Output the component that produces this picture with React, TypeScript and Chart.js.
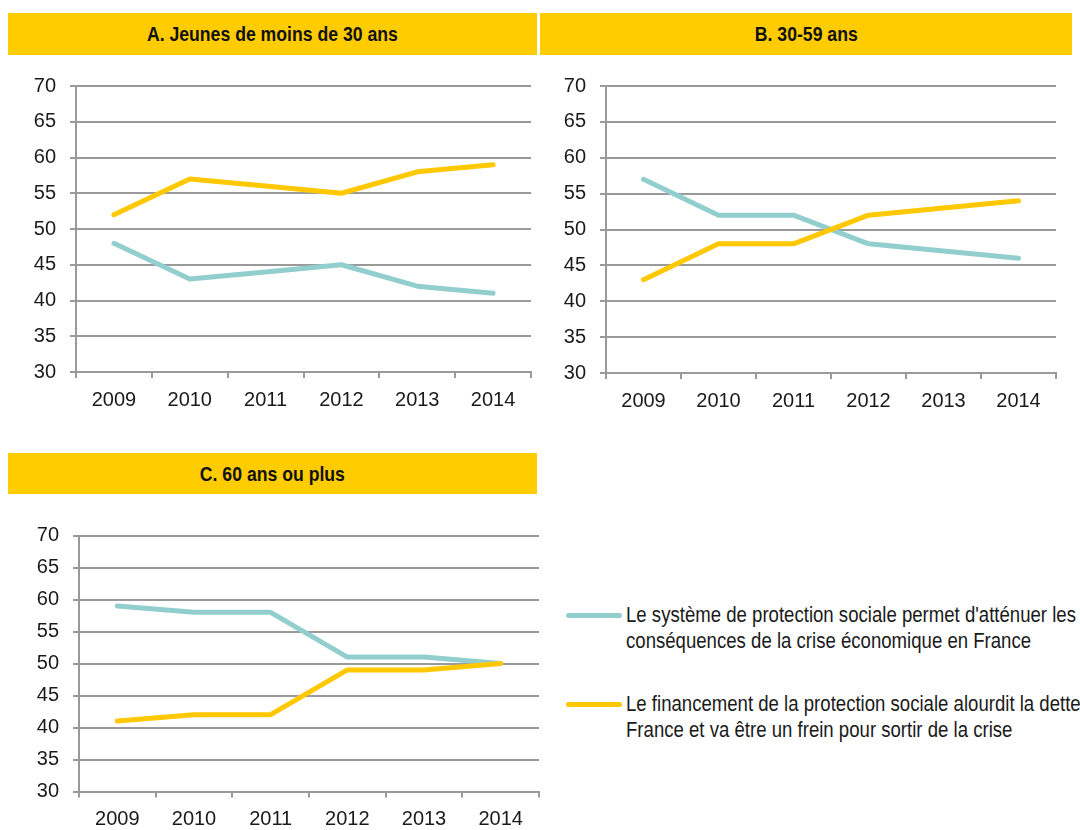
import React, { useEffect, useRef } from "react";
import { Chart, registerables } from "chart.js";

Chart.register(...registerables);

const years = ["2009", "2010", "2011", "2012", "2013", "2014"];

const youngAttenue = [48, 43, 44, 45, 42, 41];
const youngDette = [52, 57, 56, 55, 58, 59];

const midAttenue = [57, 52, 52, 48, 47, 46];
const midDette = [43, 48, 48, 52, 53, 54];

const seniorAttenue = [59, 58, 58, 51, 51, 50];
const seniorDette = [41, 42, 42, 49, 49, 50];

const titles = ["A. Jeunes de moins de 30 ans", "B. 30-59 ans", "C. 60 ans ou plus"];

const legendAttenue = ["Le système de protection sociale permet d'atténuer les", "conséquences de la crise économique en France"];
const legendDette = ["Le financement de la protection sociale alourdit la dette de la", "France et va être un frein pour sortir de la crise"];

const CYAN = "#92CECE";
const YELLOW = "#FFC800";
const HEADER = "#FFCC00";
const GRID = "#9a9a9a";
const FONT = "'Liberation Sans', Arial, sans-serif";

type Box = { left: number; top: number; w: number; h: number; yWidth: number; padTop: number; padRight: number; xHeight: number };

function LineChart({ box, attenue, dette }: { box: Box; attenue: number[]; dette: number[] }) {
  const ref = useRef<HTMLCanvasElement | null>(null);
  useEffect(() => {
    if (!ref.current) return;
    const chart = new Chart(ref.current, {
      type: "line",
      data: {
        labels: years,
        datasets: [
          {
            label: legendDette.join(" "),
            data: dette,
            borderColor: YELLOW,
            backgroundColor: YELLOW,
            borderWidth: 5,
            pointRadius: 0,
            tension: 0,
            borderCapStyle: "round",
            borderJoinStyle: "round",
          },
          {
            label: legendAttenue.join(" "),
            data: attenue,
            borderColor: CYAN,
            backgroundColor: CYAN,
            borderWidth: 5,
            pointRadius: 0,
            tension: 0,
            borderCapStyle: "round",
            borderJoinStyle: "round",
          },
        ],
      },
      options: {
        responsive: false,
        animation: false,
        devicePixelRatio: 1,
        layout: { padding: { top: box.padTop, right: box.padRight, left: 0, bottom: 0 } },
        plugins: { legend: { display: false }, tooltip: { enabled: false }, title: { display: false } },
        scales: {
          x: {
            type: "category",
            offset: true,
            grid: {
              offset: true,
              drawOnChartArea: false,
              drawTicks: true,
              tickLength: 6,
              color: GRID,
              lineWidth: 2,
            },
            border: { display: true, color: GRID, width: 2 },
            ticks: {
              color: "#1a1a1a",
              font: { family: FONT, size: 20 },
              padding: 10,
              maxRotation: 0,
              autoSkip: false,
            },
            afterFit: (scale: any) => {
              scale.height = box.xHeight;
            },
          },
          y: {
            min: 30,
            max: 70,
            ticks: {
              stepSize: 5,
              color: "#1a1a1a",
              font: { family: FONT, size: 20 },
              padding: 14,
            },
            grid: {
              color: GRID,
              lineWidth: 2,
              drawTicks: true,
              tickLength: 6,
            },
            border: { display: true, color: GRID, width: 2 },
            afterFit: (scale: any) => {
              scale.width = box.yWidth;
            },
          },
        },
      },
    });
    return () => chart.destroy();
  }, []);
  return (
    <canvas
      ref={ref}
      width={box.w}
      height={box.h}
      style={{ position: "absolute", left: box.left, top: box.top, width: box.w, height: box.h }}
    />
  );
}

function Header({ left, top, width, height, text }: { left: number; top: number; width: number; height: number; text: string }) {
  return (
    <div
      style={{
        position: "absolute",
        left,
        top,
        width,
        height,
        background: HEADER,
        display: "flex",
        alignItems: "center",
        justifyContent: "center",
      }}
    >
      <span
        style={{
          display: "inline-block",
          fontFamily: FONT,
          fontWeight: "bold",
          fontSize: 21,
          color: "#111",
          transform: "scaleX(0.84)",
          whiteSpace: "nowrap",
        }}
      >
        {text}
      </span>
    </div>
  );
}

function LegendItem({ top, color, lines }: { top: number; color: string; lines: string[] }) {
  return (
    <>
      <div style={{ position: "absolute", left: 566, top: top - 2.5, width: 56, height: 5, borderRadius: 3, background: color }} />
      <div
        style={{
          position: "absolute",
          left: 626,
          top: top - 13,
          fontFamily: FONT,
          fontSize: 22,
          lineHeight: "26px",
          color: "#1a1a1a",
          whiteSpace: "nowrap",
          transform: "scaleX(0.845)",
          transformOrigin: "left top",
        }}
      >
        {lines.map((l, i) => (
          <div key={i}>{l}</div>
        ))}
      </div>
    </>
  );
}

export default function App() {
  const boxA: Box = { left: 0, top: 60, w: 540, h: 370, yWidth: 76, padTop: 26, padRight: 9, xHeight: 58 };
  const boxB: Box = { left: 540, top: 60, w: 540, h: 370, yWidth: 66, padTop: 25.5, padRight: 24, xHeight: 57 };
  const boxC: Box = { left: 0, top: 500, w: 540, h: 330, yWidth: 79, padTop: 35.5, padRight: 1, xHeight: 38.5 };
  return (
    <div
      style={{
        position: "fixed",
        left: 0,
        top: 0,
        width: 1080,
        height: 830,
        overflow: "hidden",
        background: "#fff",
      }}
    >
      <Header left={8} top={13} width={529} height={42} text={titles[0]} />
      <Header left={540} top={13} width={532} height={42} text={titles[1]} />
      <Header left={8} top={453} width={529} height={41} text={titles[2]} />
      <LineChart box={boxA} attenue={youngAttenue} dette={youngDette} />
      <LineChart box={boxB} attenue={midAttenue} dette={midDette} />
      <LineChart box={boxC} attenue={seniorAttenue} dette={seniorDette} />
      <LegendItem top={615} color={CYAN} lines={legendAttenue} />
      <LegendItem top={704} color={YELLOW} lines={legendDette} />
    </div>
  );
}
